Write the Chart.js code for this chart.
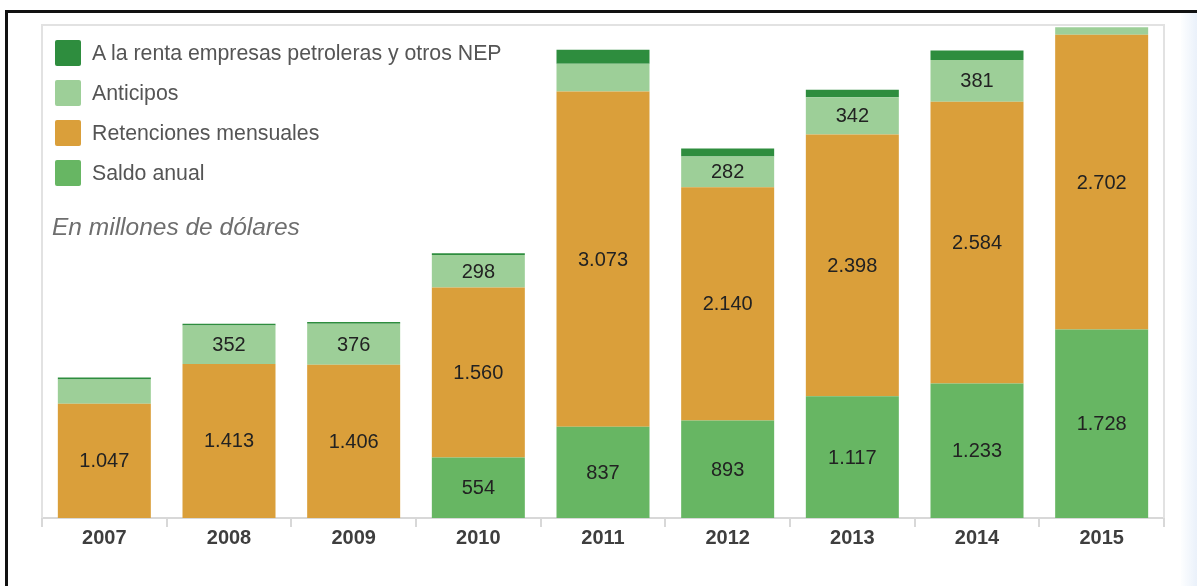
<!DOCTYPE html>
<html>
<head>
<meta charset="utf-8">
<script src="https://cdn.jsdelivr.net/npm/chart.js@4.4.1/dist/chart.umd.min.js"></script>
<style>
  html, body { margin: 0; padding: 0; background: #fff; }
  #wrap { position: relative; width: 1197px; height: 586px; overflow: hidden; background: #fff; }
  #chart { position: absolute; left: 0; top: 0; }
  .frame-top { position: absolute; left: 5px; right: 0; top: 10px; height: 3px; background: #111; }
  .frame-left { position: absolute; left: 5px; top: 10px; bottom: 0; width: 3px; background: #111; }
  .frame-right { position: absolute; left: 1181px; right: 0; top: 13px; bottom: 0;
    background: linear-gradient(to right, #fdfeff, #eaf1fa); }
  #legend { position: absolute; left: 55px; top: 40px; font-family: "Liberation Sans", Arial, sans-serif; }
  .item { position: relative; height: 40px; }
  .swatch { position: absolute; left: 0; top: 0; width: 26px; height: 26px; border-radius: 2px; }
  .item span { position: absolute; left: 37px; top: 1px; font-size: 21.3px; color: #555; white-space: nowrap; line-height: 24px; }
  #note { position: absolute; left: 52px; top: 213px; font-family: "Liberation Sans", Arial, sans-serif;
    font-style: italic; font-size: 24.5px; color: #6e6e6e; white-space: nowrap; }
</style>
</head>
<body>
<div id="wrap">
  <canvas id="chart" width="1197" height="586"></canvas>
  <div class="frame-top"></div>
  <div class="frame-left"></div>
  <div class="frame-right"></div>
  <div id="legend"></div>
  <div id="note">En millones de dólares</div>
</div>
<script>
// Recaudación por año, en millones de dólares

var years = ['2007', '2008', '2009', '2010', '2011', '2012', '2013', '2014', '2015'];

var saldoAnual   = [0, 0, 0, 554, 837, 893, 1117, 1233, 1728];
var retenciones  = [1047, 1413, 1406, 1560, 3073, 2140, 2398, 2584, 2702];
var anticipos    = [223, 352, 376, 298, 254, 282, 342, 381, 70];
var rentaNEP     = [18, 15, 15, 15, 128, 72, 70, 88, 0];

var seriesNames  = ['Saldo anual', 'Retenciones mensuales', 'Anticipos', 'A la renta empresas petroleras y otros NEP'];
var seriesColors = ['#67b663', '#da9f3a', '#9dcf98', '#2e8d3e'];

var yMax = 4520;

// miles con punto
function fmt(v) {
  return String(v).replace(/\B(?=(\d{3})+(?!\d))/g, '.');
}

// LEGEND (top series first)
var legend = document.getElementById('legend');
for (var i = seriesNames.length - 1; i >= 0; i--) {
  var item = document.createElement('div');
  item.className = 'item';
  item.innerHTML = '<div class="swatch" style="background:' + seriesColors[i] + '"></div><span>' + seriesNames[i] + '</span>';
  legend.appendChild(item);
}

// light border around the plot area
const panelBorder = {
  id: 'panelBorder',
  beforeDatasetsDraw(chart) {
    const a = chart.chartArea;
    const ctx = chart.ctx;
    ctx.save();
    ctx.strokeStyle = '#e2e2e2';
    ctx.lineWidth = 2;
    ctx.beginPath();
    ctx.moveTo(a.left, a.bottom);
    ctx.lineTo(a.left, a.top);
    ctx.lineTo(a.right, a.top);
    ctx.lineTo(a.right, a.bottom);
    ctx.stroke();
    ctx.restore();
  }
};

// values inside the segments that are tall enough
const segmentLabels = {
  id: 'segmentLabels',
  afterDatasetsDraw(chart) {
    const ctx = chart.ctx;
    ctx.save();
    ctx.font = '20px "Liberation Sans", Arial, sans-serif';
    ctx.fillStyle = '#222';
    ctx.textAlign = 'center';
    ctx.textBaseline = 'middle';
    chart.data.datasets.forEach((ds, di) => {
      chart.getDatasetMeta(di).data.forEach((bar, j) => {
        const v = ds.data[j];
        const h = Math.abs(bar.base - bar.y);
        if (!v || h < 29) return;
        ctx.fillText(fmt(v), bar.x, (bar.y + bar.base) / 2 + 1);
      });
    });
    ctx.restore();
  }
};

const seriesData = [saldoAnual, retenciones, anticipos, rentaNEP];

const chart = new Chart('chart', {
  type: 'bar',
  data: {
    labels: years,
    datasets: seriesData.map((d, i) => ({
      label: seriesNames[i],
      data: d,
      backgroundColor: seriesColors[i],
      borderWidth: 0,
      categoryPercentage: 1,
      barPercentage: 0.746
    }))
  },
  options: {
    responsive: false,
    animation: false,
    layout: { padding: { left: 42, right: 33, top: 25, bottom: 0 } },
    plugins: {
      legend: { display: false },
      tooltip: { enabled: false }
    },
    scales: {
      x: {
        stacked: true,
        afterFit: (scale) => { scale.height = 68; },
        border: { color: '#d8d8d8', width: 2 },
        grid: {
          offset: true,
          drawOnChartArea: false,
          drawTicks: true,
          tickLength: 9,
          color: '#d8d8d8',
          lineWidth: 2
        },
        ticks: {
          padding: -1,
          color: '#3e3e3e',
          font: { family: '"Liberation Sans", Arial, sans-serif', size: 20, weight: 'bold' }
        }
      },
      y: {
        stacked: true,
        display: false,
        min: 0,
        max: yMax
      }
    }
  },
  plugins: [panelBorder, segmentLabels]
});
</script>
</body>
</html>
